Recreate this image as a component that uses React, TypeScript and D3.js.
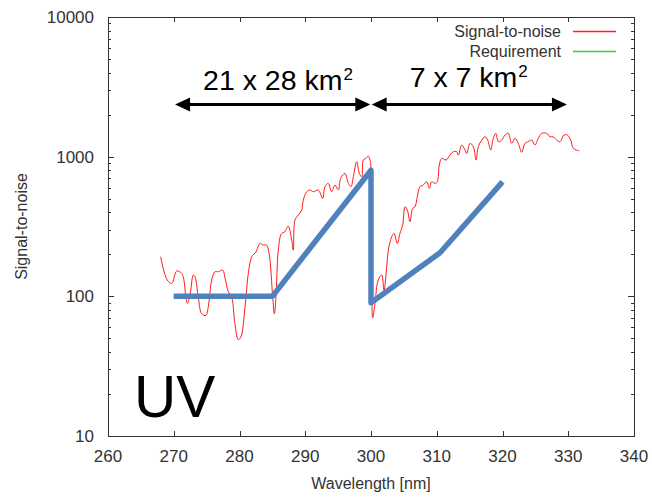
import React, { useRef, useEffect } from 'react';
import { select, scaleLinear, scaleLog, line, curveCatmullRom } from 'd3';

const width = 652;
const height = 498;
const margin = { left: 108, right: 18, top: 17, bottom: 62 };

const fontFamily = "'Liberation Sans', Arial, sans-serif";

// x axis [nm] and y axis (log)
const xTicks = [260, 270, 280, 290, 300, 310, 320, 330, 340];
const yTicks = [10, 100, 1000, 10000];

// measured signal-to-noise curve
const snrWavelength = [
  268.0, 269.0, 269.7, 270.45, 271.2, 271.45, 272.06, 272.47, 272.97, 273.23,
  273.73, 274.25, 274.9, 275.25, 275.77, 276.27, 276.78, 277.45, 277.8, 278.3,
  278.8, 279.3, 279.8, 280.2, 280.84, 281.34, 281.86, 282.5, 283.1, 283.6,
  284.1, 284.5, 285.05, 285.3, 285.55, 285.9, 286.4, 286.9, 287.4, 287.94,
  288.18, 288.44, 288.94, 289.46, 289.7, 290.22, 290.72, 291.22, 291.98, 292.65,
  293.0, 293.5, 294.02, 294.52, 295.03, 295.39, 296.05, 296.55, 296.96, 297.31,
  297.83, 298.22, 298.59, 298.83, 299.24, 299.59, 299.85, 299.95, 300.12, 300.26,
  300.6, 301.1, 301.63, 301.98, 302.39, 302.63, 303.15, 303.5, 304.0, 304.4,
  304.82, 305.17, 305.52, 305.93, 306.34, 306.69, 307.04, 307.45, 307.95, 308.47,
  308.87, 309.23, 309.73, 310.08, 310.39, 310.75, 311.41, 312.0, 312.52, 313.03,
  313.28, 313.8, 314.3, 314.55, 315.06, 315.56, 315.97, 316.32, 316.84, 317.34,
  317.75, 318.2, 318.6, 319.0, 319.36, 319.88, 320.38, 320.88, 321.4, 321.9,
  322.4, 322.92, 323.42, 323.92, 324.44, 324.94, 325.44, 325.96, 326.72, 327.22,
  327.73, 328.24, 328.75, 329.35, 329.86, 330.37, 330.77, 331.28, 331.68
];
const snrValue = [
  192, 131, 124, 152, 146, 138, 89, 102, 142, 138,
  99, 75, 73, 84, 131, 150, 150, 154, 135, 108,
  99, 64, 49, 51, 84, 146, 192, 208, 239, 233,
  233, 203, 99, 75, 99, 214, 282, 290, 318, 253,
  214, 352, 382, 415, 489, 561, 577, 561, 577, 502,
  610, 644, 561, 627, 577, 700, 759, 644, 610, 718,
  920, 759, 718, 946, 973, 1009, 946, 896, 111, 70,
  89, 131, 142, 111, 163, 214, 267, 282, 239, 282,
  324, 438, 415, 342, 426, 438, 516, 610, 627, 661,
  593, 661, 644, 661, 871, 973, 946, 1025, 1084, 1084,
  1025, 1211, 1114, 1054, 1245, 1178, 946, 1178, 1315, 1388,
  1315, 1114, 1352, 1469, 1279, 1315, 1429, 1469, 1245, 1352,
  1245, 1074, 1245, 1279, 1315, 1211, 1352, 1469, 1469, 1388,
  1388, 1315, 1279, 1429, 1429, 1315, 1146, 1114, 1101
];

// requirement
const reqWavelength = [270, 285, 300, 300, 310.5, 320];
const reqValue = [100, 100, 800, 90, 205, 660];

// resolution annotations
const spanStart = [270.2, 300.1];
const spanEnd = [299.9, 329.8];
const spanLabel = ['21 x 28 km', '7 x 7 km'];
const spanLevel = 2400;

const legendLabels = ['Signal-to-noise', 'Requirement'];
const legendColors = ['#ff2020', '#30d030'];

const Chart = () => {
  const ref = useRef<SVGSVGElement>(null);

  useEffect(() => {
    const svg = select(ref.current);
    svg.selectAll('*').remove();

    const x = scaleLinear().domain([260, 340]).range([margin.left, width - margin.right]);
    const y = scaleLog().domain([10, 10000]).range([height - margin.bottom, margin.top]);
    const [x0, x1] = x.range();
    const [y0, y1] = y.range();

    // frame
    svg.append('rect')
      .attr('x', x0 + 0.5).attr('y', y1 + 0.5)
      .attr('width', x1 - x0).attr('height', y0 - y1)
      .attr('fill', 'none').attr('stroke', '#333').attr('stroke-width', 1);

    // x ticks (top + bottom, inward)
    const xt = svg.append('g').attr('stroke', '#333');
    xTicks.slice(1, -1).forEach(t => {
      const px = Math.round(x(t)) + 0.5;
      xt.append('line').attr('x1', px).attr('x2', px).attr('y1', y0).attr('y2', y0 - 5);
      xt.append('line').attr('x1', px).attr('x2', px).attr('y1', y1).attr('y2', y1 + 5);
    });

    // y ticks, major and minor (left + right, inward)
    const minor: number[] = [];
    yTicks.slice(0, -1).forEach(d => { for (let k = 2; k < 10; k++) minor.push(d * k); });
    const yt = svg.append('g').attr('stroke', '#333');
    yTicks.slice(1, -1).forEach(t => {
      const py = Math.round(y(t)) + 0.5;
      yt.append('line').attr('x1', x0).attr('x2', x0 + 6).attr('y1', py).attr('y2', py);
      yt.append('line').attr('x1', x1).attr('x2', x1 - 6).attr('y1', py).attr('y2', py);
    });
    minor.forEach(t => {
      const py = Math.round(y(t)) + 0.5;
      yt.append('line').attr('x1', x0).attr('x2', x0 + 3).attr('y1', py).attr('y2', py);
      yt.append('line').attr('x1', x1).attr('x2', x1 - 3).attr('y1', py).attr('y2', py);
    });

    // tick labels
    svg.append('g')
      .selectAll('text')
      .data(xTicks)
      .join('text')
      .attr('x', d => x(d))
      .attr('y', y0 + 26)
      .attr('text-anchor', 'middle')
      .attr('fill', '#333')
      .style('font-family', fontFamily)
      .style('font-size', '17px')
      .text(d => d);

    svg.append('g')
      .selectAll('text')
      .data(yTicks)
      .join('text')
      .attr('x', x0 - 14)
      .attr('y', d => y(d))
      .attr('dy', '0.36em')
      .attr('text-anchor', 'end')
      .attr('fill', '#333')
      .style('font-family', fontFamily)
      .style('font-size', '17px')
      .text(d => d);

    // axis titles
    svg.append('text')
      .attr('x', (x0 + x1) / 2)
      .attr('y', 489)
      .attr('text-anchor', 'middle')
      .attr('fill', '#333')
      .style('font-family', fontFamily)
      .style('font-size', '16px')
      .text('Wavelength [nm]');

    svg.append('text')
      .attr('transform', `translate(27, ${(y0 + y1) / 2}) rotate(-90)`)
      .attr('text-anchor', 'middle')
      .attr('fill', '#333')
      .style('font-family', fontFamily)
      .style('font-size', '16px')
      .text('Signal-to-noise');

    // series
    const snrPoints = snrWavelength.map((w, i) => [x(w), y(snrValue[i])] as [number, number]);
    const reqPoints = reqWavelength.map((w, i) => [x(w), y(reqValue[i])] as [number, number]);
    const path = line();
    const smooth = line().curve(curveCatmullRom.alpha(0.5));

    svg.append('path')
      .attr('d', smooth(snrPoints))
      .attr('fill', 'none')
      .attr('stroke', '#ff1a1a')
      .attr('stroke-width', 1);

    svg.append('path')
      .attr('d', path(reqPoints))
      .attr('fill', 'none')
      .attr('stroke', legendColors[1])
      .attr('stroke-width', 1.5);

    svg.append('path')
      .attr('d', path(reqPoints))
      .attr('fill', 'none')
      .attr('stroke', '#4f81bd')
      .attr('stroke-width', 5.5)
      .attr('stroke-linejoin', 'round');

    // double arrows with labels
    const ay = Math.round(y(spanLevel)) + 0.5;
    const headLen = 15;
    const headHalf = 7;
    spanStart.forEach((s, i) => {
      const a = x(s);
      const b = x(spanEnd[i]);
      const g = svg.append('g');
      g.append('line')
        .attr('x1', a + headLen - 2).attr('x2', b - headLen + 2)
        .attr('y1', ay).attr('y2', ay)
        .attr('stroke', '#000').attr('stroke-width', 3);
      g.append('path')
        .attr('d', `M${a},${ay}L${a + headLen},${ay - headHalf}L${a + headLen},${ay + headHalf}Z`)
        .attr('fill', '#000');
      g.append('path')
        .attr('d', `M${b},${ay}L${b - headLen},${ay - headHalf}L${b - headLen},${ay + headHalf}Z`)
        .attr('fill', '#000');

      const label = g.append('text')
        .attr('x', i === 0 ? a + 28 : a + 38)
        .attr('y', i === 0 ? 90 : 86.5)
        .attr('fill', '#000')
        .style('font-family', fontFamily)
        .style('font-size', '28.5px');
      label.append('tspan').text(spanLabel[i]);
      label.append('tspan')
        .attr('dx', 1)
        .attr('dy', -10)
        .style('font-size', '17px')
        .text('2');
    });

    // UV label
    svg.append('text')
      .attr('x', 134)
      .attr('y', 417)
      .attr('fill', '#000')
      .style('font-family', fontFamily)
      .style('font-size', '58.5px')
      .text('UV');

    // legend
    const legend = svg.append('g')
      .selectAll('g')
      .data(legendLabels)
      .join('g')
      .attr('transform', (d, i) => `translate(0, ${31 + i * 20})`);

    legend.append('text')
      .attr('x', 561)
      .attr('dy', '0.35em')
      .attr('text-anchor', 'end')
      .attr('fill', '#333')
      .style('font-family', fontFamily)
      .style('font-size', '16px')
      .text(d => d);

    legend.append('line')
      .attr('x1', 573).attr('x2', 616)
      .attr('y1', 0.5).attr('y2', 0.5)
      .attr('stroke', (d, i) => legendColors[i])
      .attr('stroke-width', 1.5);
  }, []);

  return (
    <svg
      ref={ref}
      width={width}
      height={height}
      style={{ position: 'absolute', left: 0, top: 0, background: '#fff' }}
    />
  );
};

export default function App() {
  return <Chart />;
}
